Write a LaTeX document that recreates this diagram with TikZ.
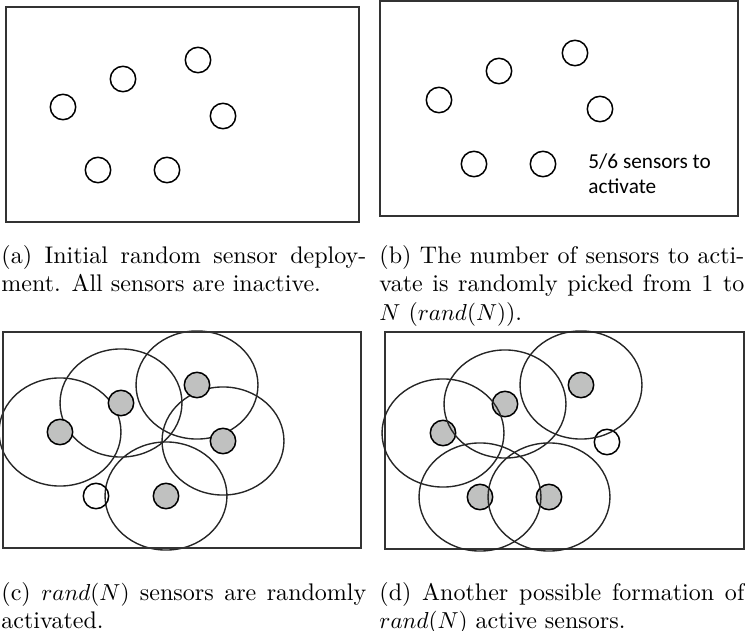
\documentclass[tikz,border=0pt]{standalone}
\usepackage{fontspec}
\usetikzlibrary{backgrounds}
\newfontfamily\notefont{Carlito}
\definecolor{activegray}{RGB}{192,193,192}

\begin{document}
\begin{tikzpicture}[x=0.433pt, y=-0.433pt,
  frame/.style={draw=black!80, line width=0.8pt},
  sensor/.style={circle, draw, line width=0.65pt, minimum size=11pt, inner sep=0pt},
  active/.style={sensor, fill=activegray},
  reach/.style={draw=black!85, line width=0.6pt, x radius=26.4pt, y radius=23.4pt},
  caption/.style={text width=158pt, align=justify, inner sep=0pt, anchor=base west,
    font=\fontsize{10.4}{12.5}\selectfont}]
\useasboundingbox (0,0) rectangle (745,631);

\draw[frame] (6,7) rectangle (359,222);
\node[sensor] (a1) at (63,107) {};
\node[sensor] (a2) at (123,79) {};
\node[sensor] (a3) at (198,60) {};
\node[sensor] (a4) at (223,116) {};
\node[sensor] (a5) at (98,170) {};
\node[sensor] (a6) at (167,170) {};
\node[caption] (capa) at (1,263) {(a) Initial random sensor deploy-\linebreak ment. All sensors are inactive.};

\draw[frame] (380,1) rectangle (738,216);
\node[sensor] (b1) at (439,100) {};
\node[sensor] (b2) at (499,71) {};
\node[sensor] (b3) at (575,53) {};
\node[sensor] (b4) at (600,109) {};
\node[sensor] (b5) at (474,164) {};
\node[sensor] (b6) at (543,164) {};
\node[anchor=base west, inner sep=0pt, align=left, font=\notefont\fontsize{9.2}{10.8}\selectfont] (todo) at (588,193) {5/6 sensors to\\activate};
\node[caption] (capb) at (379,263) {(b) The number of sensors to acti-\linebreak vate is randomly picked from 1 to\linebreak $N$ ($rand(N)$).};

\draw[frame] (3,332) rectangle (361,548);
\node[active] (c1) at (60,432) {};
\node[active] (c2) at (121,403) {};
\node[active] (c3) at (197,385) {};
\node[active] (c4) at (223,441) {};
\node[active] (c5) at (166,496) {};
\node[sensor] (c6) at (96,496) {};
\begin{scope}[on background layer]
\draw[reach] (c1.center) ellipse [];
\draw[reach] (c2.center) ellipse [];
\draw[reach] (c3.center) ellipse [];
\draw[reach] (c4.center) ellipse [];
\draw[reach] (c5.center) ellipse [];
\end{scope}
\node[caption] (capc) at (1,600) {(c) $rand(N)$ sensors are randomly\linebreak activated.};

\draw[frame] (385,332) rectangle (744,549);
\node[active] (d1) at (443,433) {};
\node[active] (d2) at (505,404) {};
\node[active] (d3) at (581,385) {};
\node[active] (d4) at (480,497) {};
\node[active] (d5) at (549,497) {};
\node[sensor] (d6) at (607,442) {};
\draw[reach] (d1.center) ellipse [];
\draw[reach] (d2.center) ellipse [];
\draw[reach] (d3.center) ellipse [];
\draw[reach] (d4.center) ellipse [];
\draw[reach] (d5.center) ellipse [];
\node[caption] (capd) at (379,600) {(d) Another possible formation of\linebreak $rand(N)$ active sensors.};
\end{tikzpicture}
\end{document}
